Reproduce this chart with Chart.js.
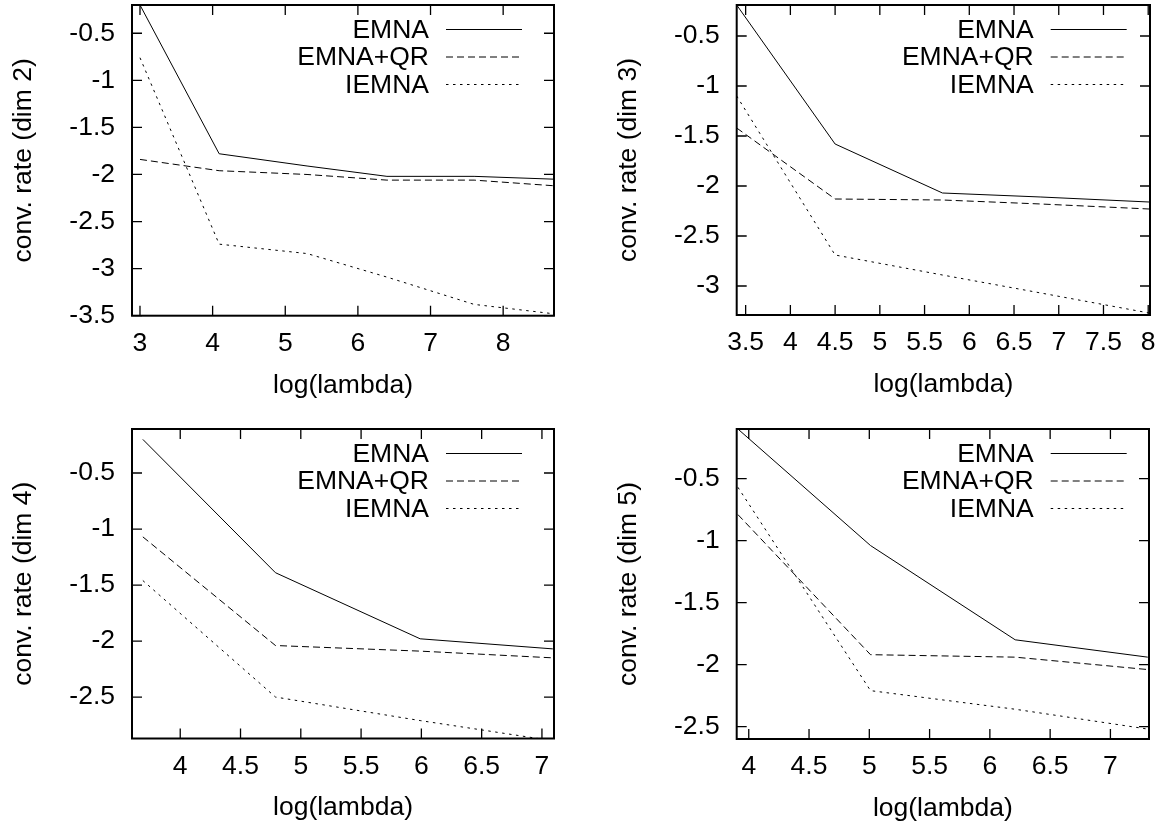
<!DOCTYPE html>
<html>
<head>
<meta charset="utf-8">
<script src="https://cdn.jsdelivr.net/npm/chart.js@4.4.1/dist/chart.umd.min.js"></script>
<style>
  html, body { margin: 0; padding: 0; background: #fff; overflow: hidden; }
  .panel { position: absolute; }
</style>
</head>
<body>
<div class="panel" style="left:0;top:0"><canvas id="dim2" width="583" height="412"></canvas></div>
<div class="panel" style="left:583px;top:0"><canvas id="dim3" width="583" height="412"></canvas></div>
<div class="panel" style="left:0;top:412px"><canvas id="dim4" width="583" height="413"></canvas></div>
<div class="panel" style="left:583px;top:412px"><canvas id="dim5" width="583" height="413"></canvas></div>
<script>
const series = ['EMNA', 'EMNA+QR', 'IEMNA'];
const dashes = [[], [7, 4], [2.5, 4.5]];
const xTitle = 'log(lambda)';

// dim 2
const dim2X = [3.00, 4.09, 5.30, 6.40, 7.60, 8.70];
const dim2Emna = [-0.20, -1.78, -1.91, -2.02, -2.02, -2.05];
const dim2Qr = [-1.84, -1.96, -2.00, -2.06, -2.06, -2.12];
const dim2Iemna = [-0.76, -2.74, -2.84, -3.09, -3.38, -3.48];
const dim2XTicks = [3, 4, 5, 6, 7, 8];
const dim2YTicks = [-0.5, -1, -1.5, -2, -2.5, -3, -3.5];

// dim 3
const dim3X = [3.40, 4.50, 5.70, 6.80, 8.01];
const dim3Emna = [-0.19, -1.58, -2.07, -2.11, -2.16];
const dim3Qr = [-1.42, -2.13, -2.14, -2.18, -2.23];
const dim3Iemna = [-1.10, -2.69, -2.89, -3.07, -3.27];
const dim3XTicks = [3.5, 4, 4.5, 5, 5.5, 6, 6.5, 7, 7.5, 8];
const dim3YTicks = [-0.5, -1, -1.5, -2, -2.5, -3];

// dim 4
const dim4X = [3.69, 4.79, 5.99, 7.09];
const dim4Emna = [-0.20, -1.39, -1.98, -2.07];
const dim4Qr = [-1.07, -2.04, -2.09, -2.15];
const dim4Iemna = [-1.46, -2.50, -2.71, -2.89];
const dim4XTicks = [4, 4.5, 5, 5.5, 6, 6.5, 7];
const dim4YTicks = [-0.5, -1, -1.5, -2, -2.5];

// dim 5
const dim5X = [3.91, 5.01, 6.21, 7.31];
const dim5Emna = [-0.10, -1.04, -1.80, -1.94];
const dim5Qr = [-0.79, -1.92, -1.94, -2.04];
const dim5Iemna = [-0.57, -2.21, -2.36, -2.52];
const dim5XTicks = [4, 4.5, 5, 5.5, 6, 6.5, 7];
const dim5YTicks = [-0.5, -1, -1.5, -2, -2.5];

const FONT_SIZE = 26.5;
Chart.defaults.font.family = '"Liberation Sans", Arial, sans-serif';
Chart.defaults.font.size = FONT_SIZE;
Chart.defaults.color = '#000';

const HALF_LINE = FONT_SIZE * 1.2 / 2;
const Y_W = 108 + HALF_LINE;   // y axis box width, title centre 108px left of the frame
const X_H = 69.5 + HALF_LINE;  // x axis box height, title centre 69.5px below the frame
const TICK = 10;

// gnuplot style border, inward ticks on all sides, key at top right
const gnuplotFrame = {
  id: 'gnuplotFrame',
  afterDatasetsDraw(chart) {
    const { ctx, chartArea: a, scales: { x, y } } = chart;
    ctx.save();
    ctx.strokeStyle = '#000';
    ctx.lineWidth = 1.3;
    ctx.beginPath();
    x.ticks.forEach(t => {
      const px = x.getPixelForValue(t.value);
      ctx.moveTo(px, a.bottom); ctx.lineTo(px, a.bottom - TICK);
      ctx.moveTo(px, a.top); ctx.lineTo(px, a.top + TICK);
    });
    y.ticks.forEach(t => {
      const py = y.getPixelForValue(t.value);
      ctx.moveTo(a.left, py); ctx.lineTo(a.left + TICK, py);
      ctx.moveTo(a.right, py); ctx.lineTo(a.right - TICK, py);
    });
    ctx.stroke();
    ctx.lineWidth = 2;
    ctx.strokeRect(a.left, a.top, a.right - a.left, a.bottom - a.top);

    // key
    const rows = [24.5, 52, 79.5];
    ctx.font = FONT_SIZE + 'px "Liberation Sans", Arial, sans-serif';
    ctx.fillStyle = '#000';
    ctx.textAlign = 'right';
    ctx.textBaseline = 'middle';
    chart.data.datasets.forEach((ds, i) => {
      const ty = a.top + rows[i];
      ctx.fillText(ds.label, a.left + 297, ty + 1);
      ctx.beginPath();
      ctx.lineWidth = 1;
      ctx.setLineDash(ds.borderDash || []);
      ctx.moveTo(a.left + 314, ty);
      ctx.lineTo(a.left + 390, ty);
      ctx.stroke();
    });
    ctx.restore();
  }
};

function makePanel(p) {
  const ys = [p.emna, p.qr, p.iemna];
  const datasets = series.map((name, i) => ({
    label: name,
    data: p.x.map((v, k) => ({ x: v, y: ys[i][k] })),
    borderColor: '#000',
    borderWidth: 1,
    borderDash: dashes[i],
    pointRadius: 0,
    fill: false,
    tension: 0
  }));

  new Chart(document.getElementById(p.id), {
    type: 'line',
    data: { datasets },
    options: {
      responsive: false,
      animation: false,
      devicePixelRatio: 1,
      layout: {
        padding: {
          left: p.box.left - p.col - Y_W,
          right: p.col + 583 - p.box.right,
          top: p.box.top - p.row,
          bottom: p.rowH - (p.box.bottom - p.row) - X_H
        }
      },
      plugins: { legend: { display: false }, tooltip: { enabled: false } },
      scales: {
        x: {
          type: 'linear',
          min: p.xMin, max: p.xMax,
          grid: { display: false, drawTicks: false },
          border: { display: false },
          afterBuildTicks: s => { s.ticks = p.xTicks.map(v => ({ value: v })); },
          afterFit: s => { s.height = X_H; s.paddingLeft = 0; s.paddingRight = 0; },
          ticks: { padding: 28 - HALF_LINE, maxRotation: 0, autoSkip: false, callback: v => String(v) },
          title: { display: true, text: xTitle, padding: 0 }
        },
        y: {
          type: 'linear',
          min: p.yMin, max: p.yMax,
          grid: { display: false, drawTicks: false },
          border: { display: false },
          afterBuildTicks: s => { s.ticks = p.yTicks.map(v => ({ value: v })); },
          afterFit: s => { s.width = Y_W; s.paddingTop = 0; s.paddingBottom = 0; },
          ticks: { padding: 17, autoSkip: false, callback: v => String(v) },
          title: { display: true, text: p.yTitle, padding: 0 }
        }
      }
    },
    plugins: [gnuplotFrame]
  });
}

makePanel({
  id: 'dim2', col: 0, row: 0, rowH: 412,
  box: { left: 132, top: 5, right: 554, bottom: 315.7 },
  x: dim2X, emna: dim2Emna, qr: dim2Qr, iemna: dim2Iemna,
  xMin: 2.89, xMax: 8.70, yMin: -3.5, yMax: -0.2,
  xTicks: dim2XTicks, yTicks: dim2YTicks, yTitle: 'conv. rate (dim 2)'
});
makePanel({
  id: 'dim3', col: 583, row: 0, rowH: 412,
  box: { left: 736.7, top: 5, right: 1150, bottom: 315 },
  x: dim3X, emna: dim3Emna, qr: dim3Qr, iemna: dim3Iemna,
  xMin: 3.40, xMax: 8.02, yMin: -3.29, yMax: -0.19,
  xTicks: dim3XTicks, yTicks: dim3YTicks, yTitle: 'conv. rate (dim 3)'
});
makePanel({
  id: 'dim4', col: 0, row: 412, rowH: 413,
  box: { left: 132, top: 429, right: 554, bottom: 738.5 },
  x: dim4X, emna: dim4Emna, qr: dim4Qr, iemna: dim4Iemna,
  xMin: 3.60, xMax: 7.10, yMin: -2.87, yMax: -0.107,
  xTicks: dim4XTicks, yTicks: dim4YTicks, yTitle: 'conv. rate (dim 4)'
});
makePanel({
  id: 'dim5', col: 583, row: 412, rowH: 413,
  box: { left: 736.7, top: 429, right: 1149, bottom: 739 },
  x: dim5X, emna: dim5Emna, qr: dim5Qr, iemna: dim5Iemna,
  xMin: 3.90, xMax: 7.32, yMin: -2.60, yMax: -0.10,
  xTicks: dim5XTicks, yTicks: dim5YTicks, yTitle: 'conv. rate (dim 5)'
});
</script>
</body>
</html>
